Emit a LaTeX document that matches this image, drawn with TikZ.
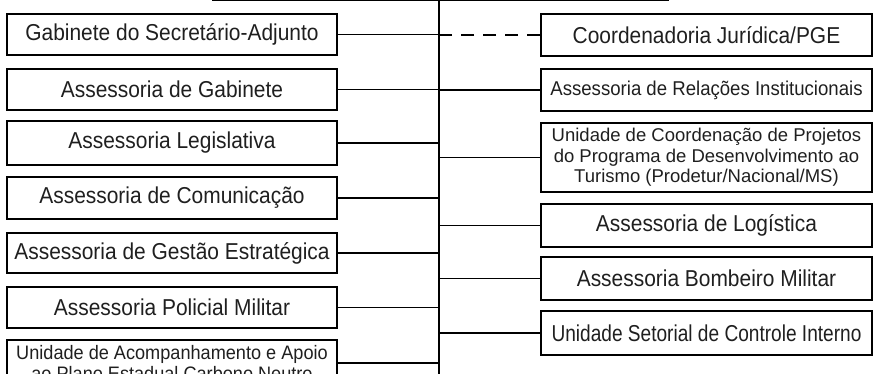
\documentclass[tikz,border=0pt]{standalone}
\usepackage{fontspec}
\setmainfont{Liberation Sans}
\newfontfamily\fmain[FakeStretch=0.91]{Liberation Sans}
\newfontfamily\fsmall[FakeStretch=0.93]{Liberation Sans}
\newfontfamily\fnar[FakeStretch=0.83]{Liberation Sans}
\newfontfamily\fplain{Liberation Sans}
\begin{document}
\begin{tikzpicture}[x=1pt,y=-1pt,
  box/.style={draw, line width=1.9pt, inner sep=0pt, align=center, text=black!88},
  lbox/.style={box, minimum width=330pt},
  rbox/.style={box, minimum width=331pt},
  mainf/.style={font=\fmain\fontsize{23}{27}\selectfont},
  conn/.style={line width=1.8pt}]
\useasboundingbox (0,0) rectangle (876,374);
\clip (0,0) rectangle (876,374);
% top box (cut off)
\node[box, minimum width=455pt, minimum height=60pt, anchor=south west] (top) at (212,1) {};
\coordinate (trunk) at (439,0);
\coordinate (trunkend) at (439,390);
\draw[conn] (top.south -| trunk) -- (trunkend);
% left boxes
\node[lbox, mainf, minimum height=41pt] (L1) at (172,34.5) {Gabinete do Secretário-Adjunto};
\node[lbox, mainf, minimum height=41pt] (L2) at (172,89.5) {Assessoria de Gabinete};
\node[lbox, mainf, minimum height=44pt] (L3) at (172,143) {Assessoria Legislativa};
\node[lbox, mainf, minimum height=42pt] (L4) at (172,198) {Assessoria de Comunicação};
\node[lbox, mainf, minimum height=40pt] (L5) at (172,253) {Assessoria de Gestão Estratégica};
\node[lbox, mainf, minimum height=41pt] (L6) at (172,307.5) {Assessoria Policial Militar};
\node[lbox, minimum height=46pt, font=\fsmall\fontsize{19.5}{21}\selectfont] (L7) at (172,363) {Unidade de Acompanhamento e Apoio\\ao Plano Estadual Carbono Neutro};
% right boxes
\node[rbox, mainf, minimum height=42pt] (R1) at (706.5,35) {Coordenadoria Jurídica/PGE};
\node[rbox, minimum height=42pt, font=\fsmall\fontsize{20}{24}\selectfont] (R2) at (706.5,90) {Assessoria de Relações Institucionais};
\node[rbox, minimum height=69pt, font=\fplain\fontsize{18.5}{20.5}\selectfont] (R3) at (706.5,157.5) {Unidade de Coordenação de Projetos\\do Programa de Desenvolvimento ao\\Turismo (Prodetur/Nacional/MS)};
\node[rbox, mainf, minimum height=43pt] (R4) at (706.5,225.5) {Assessoria de Logística};
\node[rbox, mainf, minimum height=43pt] (R5) at (706.5,278.5) {Assessoria Bombeiro Militar};
\node[rbox, minimum height=44pt, font=\fnar\fontsize{23}{27}\selectfont] (R6) at (706.5,333) {Unidade Setorial de Controle Interno};
% connectors
\foreach \n in {L1,L2,L3,L4,L5,L6,L7}
  \draw[conn] (\n.east) -- (\n.east -| trunk);
\draw[conn, dash pattern=on 13pt off 9pt] (R1.west) -- (R1.west -| trunk);
\foreach \n in {R2,R3,R4,R5,R6}
  \draw[conn] (trunk |- \n.west) -- (\n.west);
\end{tikzpicture}
\end{document}
